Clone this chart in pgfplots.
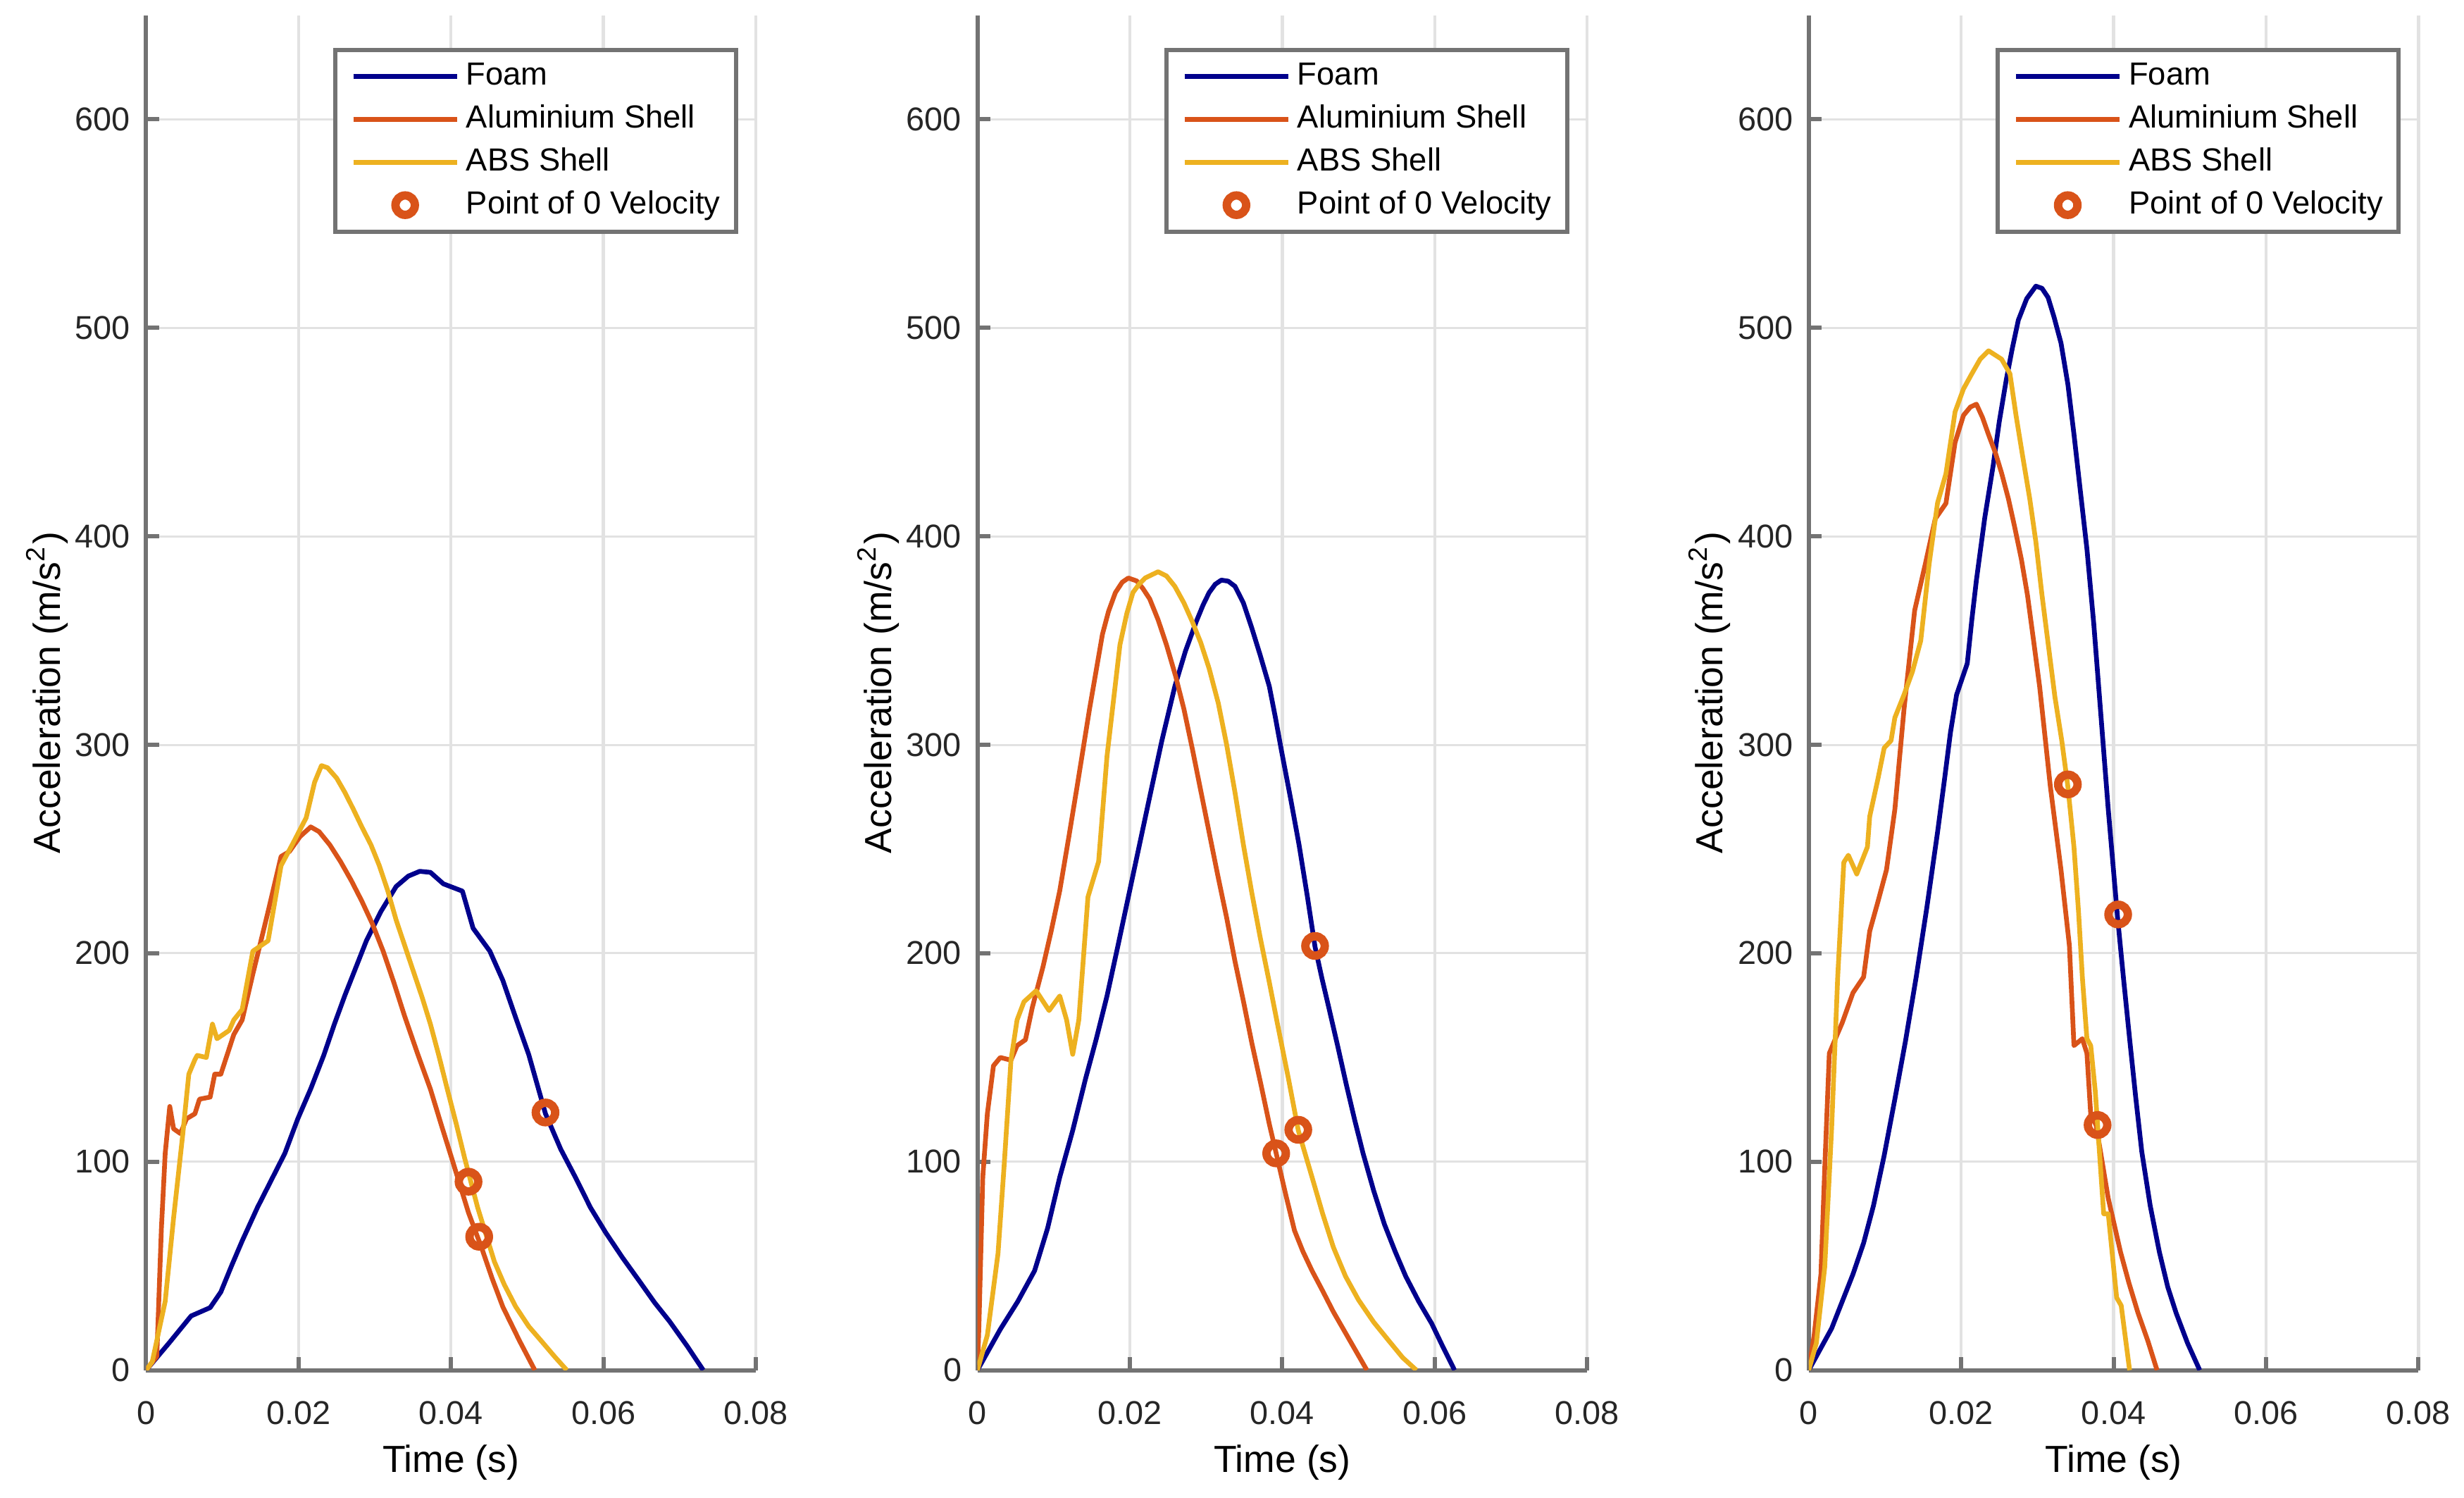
\documentclass[border=0pt]{standalone}
\usepackage{fontspec}
\setmainfont{Liberation Sans}
\usepackage{pgfplots}
\pgfplotsset{compat=1.18}
\definecolor{foam}{RGB}{0,0,140}
\definecolor{alu}{RGB}{217,83,25}
\definecolor{abs}{RGB}{237,177,32}
\definecolor{axgray}{RGB}{115,115,115}
\definecolor{gridgray}{RGB}{226,226,226}
\pgfplotsset{
 panel/.style={
  scale only axis, width=116.4pt, height=258.6pt,
  xmin=0, xmax=0.08, ymin=0, ymax=650,
  xtick={0,0.02,0.04,0.06,0.08}, ytick={0,100,200,300,400,500,600},
  scaled x ticks=false,
  /pgf/number format/assume math mode=true,
  xticklabel style={/pgf/number format/fixed, /pgf/number format/precision=2, yshift=-2.4pt},
  yticklabel style={xshift=0.5pt},
  tick label style={font=\fontsize{6.3}{7}\selectfont, text=black!85},
  label style={font=\fontsize{7.2}{8}\selectfont},
  axis x line*=bottom, axis y line*=left,
  axis line style={axgray, line width=0.8pt, -},
  tick style={axgray, line width=0.8pt},
  tick align=inside, major tick length=2.5pt,
  grid=major,
  major x grid style={gridgray, line width=0.6pt},
  major y grid style={gridgray, line width=0.4pt},
  xlabel={Time (s)}, ylabel={Acceleration (m/s\textsuperscript{2})},
  xlabel style={at={(axis description cs:0.5,-0.068)}, anchor=center},
  ylabel style={at={(axis description cs:-0.1624,0.5)}, anchor=center},
  legend style={at={(axis description cs:0.3067,0.976)}, anchor=north west,
    draw=axgray, line width=0.8pt, fill=white, inner xsep=3pt, inner ysep=2.2pt,
    font=\fontsize{6.1}{7}\selectfont, cells={anchor=west},
    nodes={inner sep=0pt, text height=4.5pt, text depth=1.2pt},
    row sep=2.5pt, column sep=1.3pt},
  legend image code/.code={\draw[mark repeat=2, mark phase=2, #1] plot coordinates {(0pt,0pt) (9.9pt,0pt) (19.8pt,0pt)};},
 },
 lf/.style={foam, line width=0.9pt, line join=round},
 la/.style={alu, line width=0.9pt, line join=round},
 lb/.style={abs, line width=0.9pt, line join=round},
 mk/.style={only marks, mark=o, mark size=1.85pt, alu, line width=1.6pt},
}
\begin{document}
\begin{tikzpicture}
\path[use as bounding box] (0,0) rectangle (470.4pt,285.8pt);
% ---------------- Panel 1
\begin{axis}[panel, at={(27.9pt,24.3pt)}, anchor=south west]
\addplot[lf] coordinates {(0,0)(0.0030,13)(0.0059,26)(0.0084,30)(0.0098,37.5)(0.0112,50)(0.0126,62)(0.0146,78)(0.0164,91)(0.0182,104)(0.0199,120.6)(0.0216,135)(0.0233,151)(0.0247,166)(0.0261,180)(0.0275,193)(0.0289,206)(0.0308,220)(0.0328,232)(0.0344,237)(0.0359,239.3)(0.0373,238.8)(0.0390,233.3)(0.0415,229.8)(0.0429,212)(0.0451,201)(0.0468,187)(0.0485,169)(0.0502,151.4)(0.0524,123)(0.0544,106)(0.0564,92)(0.0583,78)(0.0603,66)(0.0625,54)(0.0648,42.3)(0.0667,32.5)(0.0687,23.3)(0.0710,11.5)(0.0731,0)};
\addplot[la] coordinates {(0,0)(0.0014,6.6)(0.0020,68)(0.0025,104)(0.0031,126.5)(0.0036,115.8)(0.0045,113.5)(0.0053,120.6)(0.0064,123)(0.0070,130)(0.0084,131)(0.0090,142)(0.0098,142)(0.0115,161)(0.0126,168)(0.0140,190)(0.0160,220)(0.0177,246.4)(0.0188,248.8)(0.0202,256)(0.0216,260.6)(0.0227,258.3)(0.0241,252)(0.0255,244)(0.0269,235)(0.0283,225)(0.0297,214)(0.0311,201)(0.0325,186)(0.0339,170)(0.0356,152)(0.0373,134.8)(0.0387,118)(0.0401,101.6)(0.0423,75.5)(0.0440,58.9)(0.0454,44)(0.0468,30.4)(0.0490,14)(0.0510,0)};
\addplot[lb] coordinates {(0,0)(0.0008,4)(0.0025,33)(0.0036,73)(0.0048,113)(0.0056,142)(0.0064,149)(0.0067,151)(0.0079,150)(0.0087,166)(0.0093,159)(0.0109,163)(0.0115,168)(0.0126,173)(0.0140,201)(0.0160,206)(0.0177,242)(0.0193,253)(0.0210,265)(0.0221,282)(0.0230,290)(0.0238,289)(0.0250,284)(0.0261,277)(0.0272,269)(0.0283,260.6)(0.0295,252)(0.0306,242)(0.0317,230)(0.0328,216)(0.0339,204)(0.0350,192)(0.0362,179)(0.0373,166)(0.0384,151)(0.0395,135)(0.0407,118)(0.0418,101.6)(0.0435,78)(0.0457,52)(0.0470,41)(0.0485,30.4)(0.0502,21)(0.0519,13.8)(0.0536,6.5)(0.0552,0)};
\addplot[mk] coordinates {(0.0524,123.6)(0.0423,90.4)(0.0437,64)};
\legend{Foam,Aluminium Shell,ABS Shell,Point of 0 Velocity}
\end{axis}
% ---------------- Panel 2
\begin{axis}[panel, at={(186.6pt,24.3pt)}, anchor=south west]
\addplot[lf] coordinates {(0,0)(0.0030,19.6)(0.0053,33)(0.0075,47.7)(0.0092,68)(0.0108,92.6)(0.0125,115)(0.0142,140)(0.0156,159)(0.0170,179.5)(0.0184,203)(0.0198,227)(0.0212,251)(0.0226,275)(0.0242,302)(0.0259,328)(0.0273,345)(0.0287,359)(0.0296,367)(0.0304,373)(0.0312,377)(0.0320,379)(0.0329,378.5)(0.0338,376)(0.0349,368)(0.0360,356)(0.0371,343)(0.0383,328)(0.0391,313)(0.0399,297)(0.0411,274)(0.0422,252)(0.0433,227)(0.0443,203)(0.0452,188)(0.0461,174)(0.0473,155)(0.0484,137)(0.0495,120)(0.0506,104)(0.0520,86)(0.0534,70)(0.0548,57)(0.0562,45)(0.0579,33)(0.0596,22.4)(0.0611,11)(0.0626,0)};
\addplot[la] coordinates {(0,0)(0.0002,22)(0.0007,92.6)(0.0013,123)(0.0021,146)(0.0030,150)(0.0044,148.7)(0.0052,155.7)(0.0063,158.5)(0.0072,174)(0.0086,193.5)(0.0097,211)(0.0108,230)(0.0120,256)(0.0131,280.5)(0.0147,317)(0.0164,353)(0.0172,364)(0.0181,373)(0.0190,378)(0.0198,380)(0.0209,378.6)(0.0217,375)(0.0226,370)(0.0237,360)(0.0248,348)(0.0260,333)(0.0271,317)(0.0282,298)(0.0293,278)(0.0304,258)(0.0315,238)(0.0327,217)(0.0338,196)(0.0349,177)(0.0360,157)(0.0372,137)(0.0383,118)(0.0392,104)(0.0404,85)(0.0416,67)(0.0427,57)(0.0439,47.7)(0.0453,38)(0.0467,28)(0.0489,14)(0.0511,0)};
\addplot[lb] coordinates {(0,0)(0.0013,16.8)(0.0027,56)(0.0035,98)(0.0044,148.7)(0.0052,168)(0.0061,176.7)(0.0077,182)(0.0094,172.5)(0.0108,179.5)(0.0117,168)(0.0125,151.5)(0.0133,168)(0.0145,227)(0.0159,244)(0.0170,294.5)(0.0187,348)(0.0196,363)(0.0204,373)(0.0212,377)(0.0220,380)(0.0237,383)(0.0248,381)(0.0259,376)(0.0271,368)(0.0282,359)(0.0293,349)(0.0304,336.6)(0.0316,320)(0.0327,300)(0.0338,277)(0.0349,252)(0.0360,229)(0.0371,207.6)(0.0383,186)(0.0394,165.5)(0.0408,140)(0.0421,115)(0.0439,92.6)(0.0453,75)(0.0467,59)(0.0483,45)(0.0500,33.7)(0.0520,23)(0.0540,14)(0.0558,6)(0.0576,0)};
\addplot[mk] coordinates {(0.0443,203.5)(0.0392,104)(0.0421,115.3)};
\legend{Foam,Aluminium Shell,ABS Shell,Point of 0 Velocity}
\end{axis}
% ---------------- Panel 3
\begin{axis}[panel, at={(345.3pt,24.3pt)}, anchor=south west]
\addplot[lf] coordinates {(0,0)(0.0030,20)(0.0058,46)(0.0072,61)(0.0085,79)(0.0099,103)(0.0113,130)(0.0127,158)(0.0141,188.6)(0.0155,222)(0.0169,258)(0.0178,283)(0.0186,306)(0.0194,324)(0.0208,339)(0.0214,360)(0.0220,379)(0.0231,409)(0.0242,434)(0.0250,455)(0.0259,474.7)(0.0267,490)(0.0275,503.7)(0.0286,514)(0.0298,520)(0.0306,519)(0.0314,514.6)(0.0322,505)(0.0331,492.7)(0.0340,473)(0.0348,449)(0.0356,423)(0.0365,394)(0.0374,358)(0.0382,320.5)(0.0393,269)(0.0405,218)(0.0413,188)(0.0421,159)(0.0429,131)(0.0437,104.8)(0.0448,79)(0.0460,56.8)(0.0471,40)(0.0482,27.5)(0.0497,13)(0.0513,0)};
\addplot[la] coordinates {(0,0)(0.0007,16.5)(0.0016,46)(0.0021,97)(0.0027,152)(0.0035,159)(0.0044,166.7)(0.0058,181)(0.0072,188.6)(0.0080,210.6)(0.0091,225)(0.0102,240)(0.0113,269)(0.0125,317)(0.0139,364.5)(0.0153,386.8)(0.0166,408.4)(0.0180,415.8)(0.0192,445)(0.0203,458)(0.0212,462)(0.0220,463.4)(0.0228,457)(0.0236,448.7)(0.0245,440)(0.0253,430.4)(0.0262,418)(0.0270,404.8)(0.0279,389)(0.0287,371.8)(0.0295,350)(0.0303,327.8)(0.0310,304)(0.0317,280)(0.0324,260)(0.0331,240)(0.0342,203.7)(0.0348,155.7)(0.0359,159)(0.0365,152)(0.0370,122.7)(0.0377,117.6)(0.0385,100)(0.0393,82.4)(0.0409,56.8)(0.0420,42)(0.0432,27.5)(0.0445,14)(0.0457,0)};
\addplot[lb] coordinates {(0,0)(0.0010,13)(0.0021,49.5)(0.0030,115.8)(0.0038,188.6)(0.0046,243.6)(0.0052,247)(0.0063,238)(0.0077,251)(0.0080,265.6)(0.0091,284)(0.0099,298.5)(0.0108,302)(0.0113,313)(0.0125,324)(0.0136,335)(0.0147,350)(0.0158,386.8)(0.0169,416)(0.0180,430)(0.0192,459.7)(0.0203,470.7)(0.0214,478)(0.0225,485)(0.0236,489)(0.0253,485)(0.0264,478)(0.0272,458)(0.0281,437.7)(0.0290,418)(0.0298,397.4)(0.0306,372)(0.0315,346)(0.0323,323)(0.0332,302)(0.0340,280)(0.0348,251)(0.0354,220)(0.0359,188.6)(0.0365,159)(0.0370,155.7)(0.0376,133.7)(0.0387,75)(0.0393,75)(0.0404,34.8)(0.0410,31)(0.0421,0)};
\addplot[mk] coordinates {(0.0406,218.6)(0.0379,117.6)(0.0340,281)};
\legend{Foam,Aluminium Shell,ABS Shell,Point of 0 Velocity}
\end{axis}
\end{tikzpicture}
\end{document}
